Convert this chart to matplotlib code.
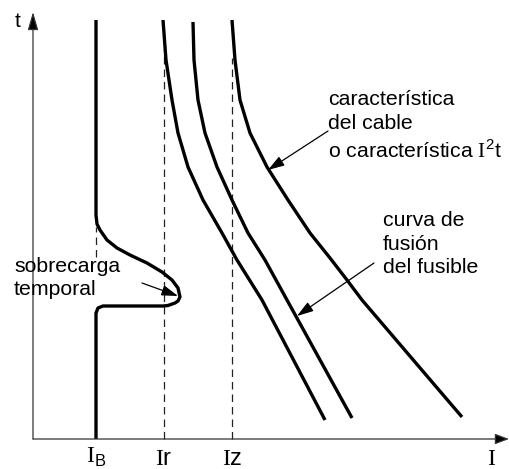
# Fuse / cable protection schematic: I-t characteristics
import numpy as np
import matplotlib.pyplot as plt

plt.rcParams['font.family'] = ['Liberation Sans', 'DejaVu Sans']
plt.rcParams['mathtext.fontset'] = 'custom'
plt.rcParams['mathtext.rm'] = 'Liberation Serif'
plt.rcParams['mathtext.sf'] = 'Liberation Sans'

# curves (current I, time t in arbitrary units)
load_I = [63, 63, 64, 67, 74, 84, 97, 114, 129, 139, 145, 147, 145, 142, 135, 130, 70, 65, 63, 63]
load_t = [419, 224, 215, 209, 199, 191, 184, 176, 167, 159, 151, 142, 138, 136, 133.5, 133, 133, 131, 126, 0]

fuse1_I = [130, 133, 139, 145, 155, 170, 189, 204, 229, 292]
fuse1_t = [419, 379, 339, 306, 272, 239, 206, 179, 139, 19]

fuse2_I = [160, 161, 165, 172, 184, 199, 215, 232, 254, 319]
fuse2_t = [417, 379, 339, 306, 272, 239, 206, 179, 139, 21]

cable_I = [199, 202, 207, 217, 234, 255, 277, 297, 314, 329, 429]
cable_t = [419, 379, 339, 306, 272, 239, 206, 181, 159, 139, 22]

# reference currents
I_B, I_r, I_z = 63, 131, 199
tick_pos = [I_B, I_r, I_z]
tick_lab = [r'$\mathrm{I}_{\mathsf{B}}$', r'$\mathrm{I}$r', r'$\mathrm{I}$z']
tick_y = [-18, -20, -20]

fig = plt.figure(figsize=(5.09, 4.69), dpi=100)
ax = fig.add_axes([0, 0, 1, 1])
ax.set_xlim(-33, 476)
ax.set_ylim(-30, 439)
ax.axis('off')

# axes with arrows
ax.annotate('', xy=(476, 0), xytext=(0, 0),
            arrowprops=dict(arrowstyle='-|>,head_length=0.85,head_width=0.32',
                            mutation_scale=10, lw=0.9, color='#333', fc='k',
                            shrinkA=0, shrinkB=0))
ax.annotate('', xy=(0, 427), xytext=(0, 0),
            arrowprops=dict(arrowstyle='-|>,head_length=1.1,head_width=0.32',
                            mutation_scale=10, lw=0.9, color='#333', fc='k',
                            shrinkA=0, shrinkB=0))
ax.text(-15, 418, 't', fontsize=15, ha='center', va='center')
ax.text(459, -20, r'$\mathrm{I}$', fontsize=17, ha='center', va='center')

# dashed reference lines
dash = dict(color='#222', lw=0.9, dashes=(6, 4))
ax.plot([I_B, I_B], [182, 212], **dash)
ax.plot([I_r, I_r], [0, 391], **dash)
ax.plot([I_z, I_z], [0, 381], **dash)
for x, y, lab in zip(tick_pos, tick_y, tick_lab):
    ax.text(x, y, lab, fontsize=17, ha='center', va='center')

# curves
sty = dict(color='k', lw=2.4, solid_joinstyle='round', solid_capstyle='butt')
ax.plot(load_I, load_t, **sty)
ax.plot(fuse1_I, fuse1_t, **sty)
ax.plot(fuse2_I, fuse2_t, **sty)
ax.plot(cable_I, cable_t, **sty)

# annotations
arr = dict(arrowstyle='-|>,head_length=1.0,head_width=0.32', mutation_scale=10,
           lw=0.9, color='k', shrinkA=0, shrinkB=0)
ax.text(295, 313, 'característica\ndel cable\no característica ' + r'$\mathrm{I}^{\mathsf{2}}$t',
        fontsize=15.3, ha='left', va='center', linespacing=1.33)
ax.annotate('', xy=(235, 269), xytext=(295, 308), arrowprops=arr)
ax.text(350, 195, 'curva de\nfusión\ndel fusible', fontsize=15.3, ha='left', va='center',
        linespacing=1.33)
ax.annotate('', xy=(264, 123), xytext=(341, 176), arrowprops=arr)
ax.text(-19, 161, 'sobrecarga\ntemporal', fontsize=15.3, ha='left', va='center',
        linespacing=1.33)
ax.annotate('', xy=(145, 143), xytext=(109, 156), arrowprops=arr)

fig.savefig('out.png', dpi=100)
